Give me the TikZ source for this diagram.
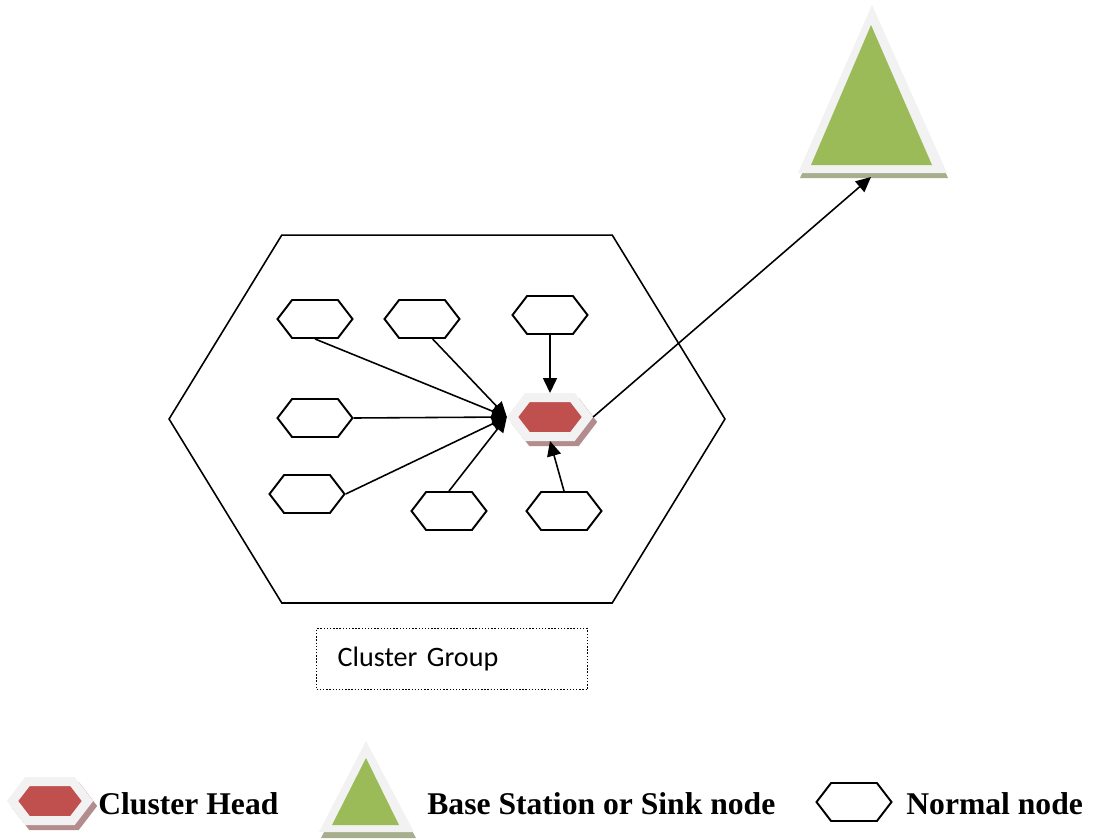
\documentclass[tikz,border=0pt]{standalone}
\usepackage{fontspec}
\setmainfont{Liberation Serif}
\newfontfamily\calibrifont{Carlito}
\usetikzlibrary{shapes,arrows,positioning,fit,arrows.meta}
\usepackage{xcolor}
\definecolor{headred}{HTML}{C0504D}
\definecolor{headshade}{HTML}{B38D8D}
\definecolor{sinkgreen}{HTML}{9BBB59}
\definecolor{sinkshade}{HTML}{A6AE8E}
\definecolor{rimgray}{HTML}{F2F2F2}

\tikzset{
    hexnode/.style={signal, signal to=east and west, signal pointer angle=105, draw, line width=1.1pt,
        minimum width=1.5cm, minimum height=0.76cm, inner sep=0pt, fill=white},
    headnode/.style={signal, signal to=east and west, signal pointer angle=105, inner sep=0pt,
        minimum width=1.5cm, minimum height=0.78cm, fill=headred, draw=rimgray, line width=0.18cm,
        preaction={fill=headshade, draw=headshade, line width=0.18cm, transform canvas={shift={(0.08cm,-0.1cm)}}}},
    link/.style={-{Triangle[length=0.3cm,width=0.28cm]}, line width=0.9pt},
    legendtext/.style={font=\bfseries\fontsize{18}{20}\selectfont, inner sep=0pt, anchor=base west}
}

\begin{document}
\begin{tikzpicture}[x=0.02cm, y=-0.02cm]
        \useasboundingbox (0,0) rectangle (1095,839);
        % Draw cluster border
        \node[hexnode, line width=0.9pt, signal pointer angle=117, minimum width=11.12cm, minimum height=7.36cm] (cluster) at (447,419) {};
        % Draw cluster head
        \node[headnode] (ch) at (550,417) {};
        % Draw normal nodes
        \node[hexnode] (n1) at (315,319) {};
        \node[hexnode] (n2) at (422,319) {};
        \node[hexnode] (n3) at (550,315) {};
        \node[hexnode] (n4) at (315,418) {};
        \node[hexnode] (n5) at (307,494) {};
        \node[hexnode] (n6) at (449,511) {};
        \node[hexnode] (n7) at (564,511) {};
        % Draw links to the cluster head
        \draw[link] (n1.south) -- (ch.west);
        \draw[link] (n2.-62) -- (ch.west);
        \draw[link] (n4.east) -- (ch.west);
        \draw[link] (n5.east) -- (ch.west);
        \draw[link] (n6.north) -- (ch.west);
        \draw[link] (n3.south) -- (ch.north);
        \draw[link] (n7.north) -- (ch.south);
        % Draw base station
        \fill[sinkshade] (873,10) -- (948,178) -- (800,178) -- cycle;
        \fill[rimgray] (872,5) -- (947,173) -- (798,173) -- cycle;
        \fill[sinkgreen] (871,25) -- (932,165) -- (811,165) -- cycle;
        \coordinate (bs) at (871,177);
        % Draw link to the base station
        \draw[link] (ch.east) -- (bs);
        % Draw group label
        \node[draw, densely dotted, line width=0.8pt, anchor=north west, text width=4.58cm, inner xsep=0.42cm,
            minimum height=1.22cm, align=left, font=\calibrifont\fontsize{16}{18}\selectfont] (grp) at (316,628) {Cluster Group};
        % Draw legend
        \node[headnode] (lch) at (50,801) {};
        \node[legendtext] (lchtext) at (98,814) {Cluster Head};
        \fill[sinkshade] (367,747) -- (416,838) -- (321,838) -- cycle;
        \fill[rimgray] (366,741) -- (414,832) -- (319,832) -- cycle;
        \fill[sinkgreen] (366,758) -- (399,825) -- (332,825) -- cycle;
        \node[legendtext] (lbstext) at (427,814) {Base Station or Sink node};
        \node[hexnode] (lnn) at (854,802) {};
        \node[legendtext] (lnntext) at (906,814) {Normal node};
    \end{tikzpicture}
\end{document}
